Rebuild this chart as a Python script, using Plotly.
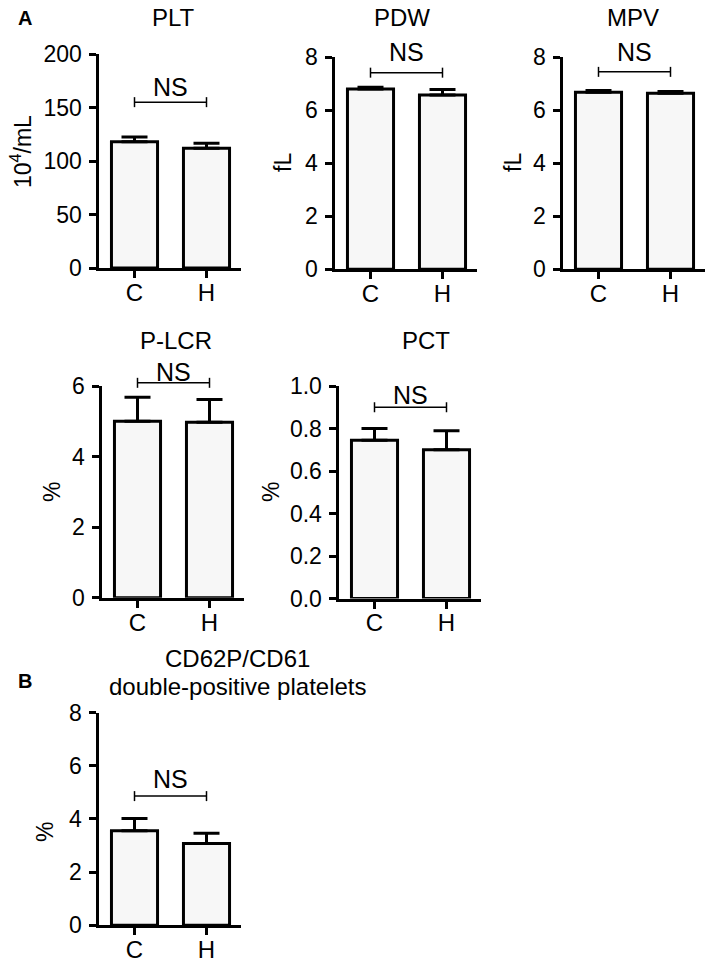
import plotly.graph_objects as go

W, H = 709, 968

groups = ["C", "H"]

panel_titles = ["PLT", "PDW", "MPV", "P-LCR", "PCT", "CD62P/CD61"]
panel_subtitle = "double-positive platelets"
y_titles = ["10<sup>4</sup>/mL", "fL", "fL", "%", "%", "%"]
means = [[118, 112], [6.8, 6.58], [6.68, 6.64], [5.0, 4.97], [0.745, 0.70], [3.56, 3.08]]
sems = [[4.5, 4.5], [0.07, 0.2], [0.07, 0.07], [0.68, 0.65], [0.055, 0.09], [0.46, 0.38]]
y_max = [200, 8, 8, 6, 1.0, 8]
y_dtick = [50, 2, 2, 2, 0.2, 2]
sig_labels = ["NS", "NS", "NS", "NS", "NS", "NS"]
sig_level = [155, 7.42, 7.45, 6.09, 0.90, 4.86]

# layout geometry (pixels, axis-line centres): axis x, pixel of y=0, pixel of y=max
geom = [
    (97, 269.5, 54),
    (333, 270.7, 57.3),
    (561, 270.7, 57.3),
    (100, 599.3, 386),
    (337, 600, 386),
    (97, 926.7, 712.7),
]
LW = 3
ns_gap = [15, 21, 19.5, 11, 12, 17]
title_pos = [(173, 18), (402, 18), (633, 18), (176, 340), (426, 340), (238, 658)]
subtitle_pos = (238, 686)
ytitle_pos = [(21, 152), (283, 163), (513, 163), (52, 492), (271, 492), (45, 832)]
PX_UNIT = 72.0
XR = (-0.5, 1.48)
FONT = "Liberation Sans, Arial, Helvetica, sans-serif"

fig = go.Figure()


def px2x(p):
    return p / W


def px2y(p):
    return 1 - p / H


def txt(text, x, y, size, angle=0):
    fig.add_annotation(text=text, xref="paper", yref="paper", textangle=angle,
                       x=px2x(x), y=px2y(y), xanchor="center", yanchor="middle",
                       showarrow=False, font=dict(family=FONT, size=size, color="black"))


for i in range(6):
    n = "" if i == 0 else str(i + 1)
    ax0, ay0, yt = geom[i]
    x0 = ax0 + LW / 2   # plot-area edge (axis line sits outside it)
    y0 = ay0 - LW / 2
    xw = (XR[1] - XR[0]) * PX_UNIT
    fig.add_trace(go.Bar(
        x=[0, 1], y=means[i], width=0.64,
        marker=dict(color="#f7f7f7", line=dict(color="black", width=3)),
        error_y=dict(type="data", array=sems[i], arrayminus=[0, 0], symmetric=False,
                     color="black", thickness=3, width=13),
        xaxis="x" + n, yaxis="y" + n, showlegend=False,
    ))
    fig.layout["xaxis" + n] = dict(
        domain=[px2x(x0), px2x(x0 + xw)], range=list(XR), anchor="y" + n,
        tickvals=[0, 1], ticktext=groups, ticks="outside", ticklen=7, tickwidth=3,
        tickcolor="black", showline=True, linecolor="black", linewidth=LW,
        showgrid=False, zeroline=False, fixedrange=True, automargin=False,
        ticklabelstandoff=-6,
        tickfont=dict(family=FONT, size=24, color="black"),
    )
    fig.layout["yaxis" + n] = dict(
        domain=[px2y(y0), px2y(yt)], range=[0, y_max[i]], anchor="x" + n,
        dtick=y_dtick[i], tick0=0, ticks="outside", ticklen=7, tickwidth=3,
        tickcolor="black", showline=True, linecolor="black", linewidth=LW,
        showgrid=False, zeroline=False, fixedrange=True, automargin=False,
        ticklabelstandoff=2,
        tickformat=".1f" if y_max[i] == 1.0 else "d",
        tickfont=dict(family=FONT, size=23, color="black"),
    )
    # significance bracket
    scale = (y0 - yt) / y_max[i]
    by = y0 - sig_level[i] * scale
    cx0 = x0 + (0 - XR[0]) * PX_UNIT
    cx1 = x0 + (1 - XR[0]) * PX_UNIT
    lw = dict(color="black", width=1.5)
    fig.add_shape(type="line", xref="paper", yref="paper",
                  x0=px2x(cx0), x1=px2x(cx1), y0=px2y(by), y1=px2y(by), line=lw)
    for cx in (cx0, cx1):
        fig.add_shape(type="line", xref="paper", yref="paper",
                      x0=px2x(cx), x1=px2x(cx), y0=px2y(by - 5), y1=px2y(by + 5), line=lw)
    txt(sig_labels[i], (cx0 + cx1) / 2, by - ns_gap[i], 25)
    tx, ty = title_pos[i]
    txt(panel_titles[i], tx, ty, 24)
    ux, uy = ytitle_pos[i]
    txt(y_titles[i], ux, uy, 23, angle=-90)

txt(panel_subtitle, subtitle_pos[0], subtitle_pos[1], 24)
txt("<b>A</b>", 25, 18, 20)
txt("<b>B</b>", 25, 681, 20)

fig.update_layout(width=W, height=H, margin=dict(l=0, r=0, t=0, b=0, autoexpand=False),
                  paper_bgcolor="white", plot_bgcolor="white", showlegend=False,
                  bargap=0)

fig.write_html("out.html", config={"displayModeBar": False, "staticPlot": True},
               post_script="document.body.style.margin='0';document.body.style.overflow='hidden';")
